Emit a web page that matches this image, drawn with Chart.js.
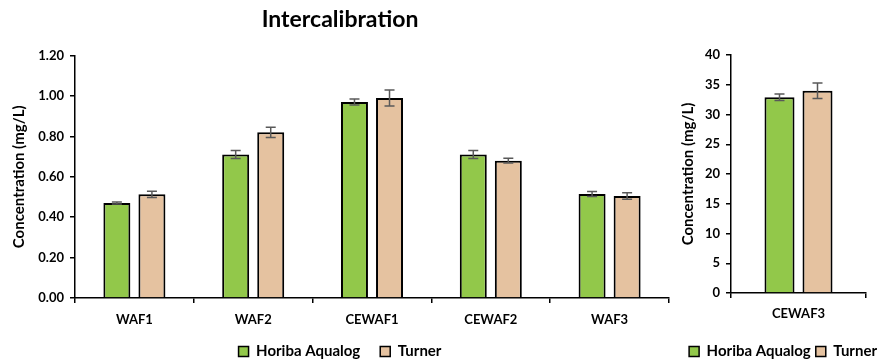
<!DOCTYPE html>
<html>
<head>
<meta charset="utf-8">
<script src="https://cdn.jsdelivr.net/npm/chart.js@4"></script>
<style>
  html, body { margin: 0; padding: 0; background: #fff; }
  #wrap { position: relative; width: 882px; height: 361px; overflow: hidden; }
  #leftBox { position: absolute; left: 0; top: 0; width: 680px; height: 361px; }
  #rightBox { position: absolute; left: 640px; top: 0; width: 242px; height: 361px; }
</style>
</head>
<body>
<div id="wrap">
  <div id="leftBox"><canvas id="left"></canvas></div>
  <div id="rightBox"><canvas id="right"></canvas></div>
</div>
<script>
// Low-concentration samples (mg/L)
const categories = ['WAF1', 'WAF2', 'CEWAF1', 'CEWAF2', 'WAF3'];
const horiba = [0.47, 0.71, 0.97, 0.71, 0.515];
const turner = [0.513, 0.82, 0.99, 0.68, 0.505];
const horibaErr = [0.005, 0.02, 0.015, 0.02, 0.012];
const turnerErr = [0.015, 0.025, 0.04, 0.012, 0.016];

// High-concentration sample (mg/L)
const categoriesHigh = ['CEWAF3'];
const horibaHigh = [32.9];
const turnerHigh = [34.0];
const horibaHighErr = [0.55];
const turnerHighErr = [1.3];

const GREEN = '#92C84A';
const TAN = '#E5C2A0';
const FONT = 'Lato, "Open Sans", sans-serif';

// Draws symmetric error bars from each dataset's `errors` array
const errorBars = {
  id: 'errorBars',
  afterDatasetsDraw(chart) {
    const ctx = chart.ctx;
    const y = chart.scales.y;
    chart.data.datasets.forEach((ds, i) => {
      const meta = chart.getDatasetMeta(i);
      meta.data.forEach((bar, j) => {
        const v = ds.data[j], e = ds.errors[j];
        const yTop = y.getPixelForValue(v + e);
        const yBot = y.getPixelForValue(v - e);
        const cap = 5;
        ctx.save();
        ctx.strokeStyle = '#595959';
        ctx.lineWidth = 1.5;
        ctx.beginPath();
        ctx.moveTo(bar.x, yTop); ctx.lineTo(bar.x, yBot);
        ctx.moveTo(bar.x - cap, yTop); ctx.lineTo(bar.x + cap, yTop);
        ctx.moveTo(bar.x - cap, yBot); ctx.lineTo(bar.x + cap, yBot);
        ctx.stroke();
        ctx.restore();
      });
    });
  }
};

function makeDatasets(h, t, he, te, catPct, barPct) {
  return [
    { label: 'Horiba Aqualog', data: h, errors: he, backgroundColor: GREEN, borderColor: '#000', borderWidth: 2,
      borderSkipped: 'bottom', categoryPercentage: catPct, barPercentage: barPct, yAxisID: 'y' },
    { label: 'Turner', data: t, errors: te, backgroundColor: TAN, borderColor: '#000', borderWidth: 2,
      borderSkipped: 'bottom', categoryPercentage: catPct, barPercentage: barPct, yAxisID: 'y' }
  ];
}

function legendOpts(pad, align) {
  return {
    display: true,
    position: 'bottom',
    align: align,
    labels: {
      color: '#000',
      boxWidth: 10,
      boxHeight: 10,
      padding: pad,
      font: { family: FONT, size: 15, weight: 'bold' },
      generateLabels(chart) {
        return chart.data.datasets.map((ds, i) => ({
          text: ds.label, fillStyle: ds.backgroundColor, strokeStyle: '#000',
          lineWidth: 1.5, hidden: false, datasetIndex: i, fontColor: '#000'
        }));
      }
    }
  };
}

function yAxis(min, max, step, width, titleGap, fmt) {
  return {
    min, max,
    ticks: { stepSize: step, color: '#000', padding: 6,
             font: { family: FONT, size: 13, weight: 'bold' }, callback: fmt },
    grid: { drawOnChartArea: false, drawTicks: true, tickLength: 5, color: '#000', lineWidth: 1.5 },
    border: { color: '#000', width: 1.5 },
    title: { display: true, text: 'Concentration (mg/L)', color: '#000', padding: { top: titleGap, bottom: 4 },
             font: { family: FONT, size: 15, weight: 'bold' } },
    afterFit(scale) { scale.width = width; }
  };
}

// Empty axis on the right that only reserves room beside the plot
function spacerAxis(width) {
  return {
    position: 'right',
    display: true,
    ticks: { display: false },
    grid: { display: false, drawTicks: false },
    border: { display: false },
    afterFit(scale) { scale.width = width; }
  };
}

function xAxis(height, pad) {
  return {
    ticks: { color: '#000', padding: pad, font: { family: FONT, size: 13, weight: 'bold' } },
    grid: { drawOnChartArea: false, drawTicks: true, tickLength: 5, color: '#000', lineWidth: 1.5, offset: true },
    border: { color: '#000', width: 1.5 },
    afterFit(scale) { scale.height = height; }
  };
}

new Chart(document.getElementById('left'), {
  type: 'bar',
  data: { labels: categories, datasets: makeDatasets(horiba, turner, horibaErr, turnerErr, 0.59, 0.77) },
  options: {
    responsive: true,
    maintainAspectRatio: false,
    animation: false,
    layout: { padding: { left: 0, right: 0, top: 0, bottom: -8 } },
    plugins: {
      title: { display: true, text: 'Intercalibration', color: '#000',
               font: { family: FONT, size: 23, weight: 'bold' }, padding: { top: 6, bottom: 22 } },
      legend: legendOpts(20, 'center'),
      tooltip: { enabled: false }
    },
    scales: {
      x: xAxis(26, 9),
      y: yAxis(0, 1.2, 0.2, 75, 10, v => v.toFixed(2)),
      pad: spacerAxis(11)
    }
  },
  plugins: [errorBars]
});

new Chart(document.getElementById('right'), {
  type: 'bar',
  data: { labels: categoriesHigh, datasets: makeDatasets(horibaHigh, turnerHigh, horibaHighErr, turnerHighErr, 0.563, 0.79) },
  options: {
    responsive: true,
    maintainAspectRatio: false,
    animation: false,
    layout: { padding: { left: 0, right: 0, top: 55, bottom: -8 } },
    plugins: {
      legend: legendOpts(5, 'end'),
      tooltip: { enabled: false }
    },
    scales: {
      x: xAxis(46, 8),
      y: yAxis(0, 40, 5, 91, 39, v => String(v)),
      pad: spacerAxis(16)
    }
  },
  plugins: [errorBars]
});
</script>
</body>
</html>
